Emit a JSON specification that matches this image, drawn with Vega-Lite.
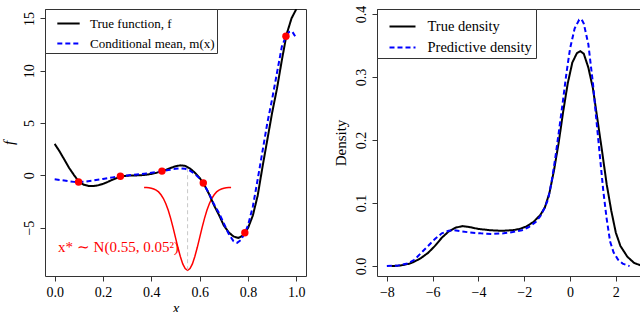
{
  "$schema": "https://vega.github.io/schema/vega-lite/v6.json",
  "padding": {"left": 0, "top": 4, "right": 0, "bottom": 0},
  "spacing": 25,
  "background": "white",
  "config": {
    "view": {"stroke": "#333", "strokeWidth": 1},
    "font": "Liberation Serif",
    "axis": {"grid": false, "domain": false, "ticks": true, "tickColor": "#333", "tickSize": 5, "labelFont": "Liberation Serif", "labelFontSize": 14, "labelColor": "#000", "labelPadding": 4, "titleFont": "Liberation Serif", "titleFontSize": 15, "titleFontWeight": "normal", "titleColor": "#000"}
  },
  "datasets": {
    "fn": [
      {"x": 0, "y": 3.0, "series": "True function, f"},
      {"x": 0.02, "y": 2.3, "series": "True function, f"},
      {"x": 0.04, "y": 1.5, "series": "True function, f"},
      {"x": 0.06, "y": 0.7, "series": "True function, f"},
      {"x": 0.08, "y": 0.02, "series": "True function, f"},
      {"x": 0.1, "y": -0.6, "series": "True function, f"},
      {"x": 0.12, "y": -0.9, "series": "True function, f"},
      {"x": 0.14, "y": -1.02, "series": "True function, f"},
      {"x": 0.16, "y": -1.03, "series": "True function, f"},
      {"x": 0.18, "y": -0.96, "series": "True function, f"},
      {"x": 0.2, "y": -0.82, "series": "True function, f"},
      {"x": 0.22, "y": -0.63, "series": "True function, f"},
      {"x": 0.24, "y": -0.42, "series": "True function, f"},
      {"x": 0.26, "y": -0.24, "series": "True function, f"},
      {"x": 0.28, "y": -0.1, "series": "True function, f"},
      {"x": 0.3, "y": -0.04, "series": "True function, f"},
      {"x": 0.32, "y": -0.02, "series": "True function, f"},
      {"x": 0.34, "y": -0.01, "series": "True function, f"},
      {"x": 0.36, "y": 0.01, "series": "True function, f"},
      {"x": 0.38, "y": 0.06, "series": "True function, f"},
      {"x": 0.4, "y": 0.13, "series": "True function, f"},
      {"x": 0.42, "y": 0.23, "series": "True function, f"},
      {"x": 0.44, "y": 0.36, "series": "True function, f"},
      {"x": 0.46, "y": 0.52, "series": "True function, f"},
      {"x": 0.48, "y": 0.7, "series": "True function, f"},
      {"x": 0.5, "y": 0.86, "series": "True function, f"},
      {"x": 0.52, "y": 0.95, "series": "True function, f"},
      {"x": 0.54, "y": 0.9, "series": "True function, f"},
      {"x": 0.56, "y": 0.65, "series": "True function, f"},
      {"x": 0.58, "y": 0.25, "series": "True function, f"},
      {"x": 0.6, "y": -0.25, "series": "True function, f"},
      {"x": 0.62, "y": -0.95, "series": "True function, f"},
      {"x": 0.64, "y": -1.85, "series": "True function, f"},
      {"x": 0.66, "y": -2.9, "series": "True function, f"},
      {"x": 0.68, "y": -3.8, "series": "True function, f"},
      {"x": 0.7, "y": -4.8, "series": "True function, f"},
      {"x": 0.72, "y": -5.45, "series": "True function, f"},
      {"x": 0.74, "y": -5.85, "series": "True function, f"},
      {"x": 0.76, "y": -5.99, "series": "True function, f"},
      {"x": 0.78, "y": -5.75, "series": "True function, f"},
      {"x": 0.8, "y": -5.05, "series": "True function, f"},
      {"x": 0.82, "y": -3.85, "series": "True function, f"},
      {"x": 0.84, "y": -1.95, "series": "True function, f"},
      {"x": 0.86, "y": 0.8, "series": "True function, f"},
      {"x": 0.88, "y": 3.4, "series": "True function, f"},
      {"x": 0.9, "y": 6.0, "series": "True function, f"},
      {"x": 0.92, "y": 8.3, "series": "True function, f"},
      {"x": 0.94, "y": 11.0, "series": "True function, f"},
      {"x": 0.96, "y": 13.5, "series": "True function, f"},
      {"x": 0.98, "y": 15.0, "series": "True function, f"},
      {"x": 1.0, "y": 15.9, "series": "True function, f"},
      {"x": 0, "y": -0.38, "series": "Conditional mean, m(x)"},
      {"x": 0.04, "y": -0.5, "series": "Conditional mean, m(x)"},
      {"x": 0.08, "y": -0.63, "series": "Conditional mean, m(x)"},
      {"x": 0.1, "y": -0.65, "series": "Conditional mean, m(x)"},
      {"x": 0.12, "y": -0.62, "series": "Conditional mean, m(x)"},
      {"x": 0.16, "y": -0.5, "series": "Conditional mean, m(x)"},
      {"x": 0.2, "y": -0.35, "series": "Conditional mean, m(x)"},
      {"x": 0.24, "y": -0.2, "series": "Conditional mean, m(x)"},
      {"x": 0.272, "y": -0.1, "series": "Conditional mean, m(x)"},
      {"x": 0.3, "y": -0.02, "series": "Conditional mean, m(x)"},
      {"x": 0.34, "y": 0.08, "series": "Conditional mean, m(x)"},
      {"x": 0.38, "y": 0.18, "series": "Conditional mean, m(x)"},
      {"x": 0.42, "y": 0.3, "series": "Conditional mean, m(x)"},
      {"x": 0.444, "y": 0.39, "series": "Conditional mean, m(x)"},
      {"x": 0.47, "y": 0.5, "series": "Conditional mean, m(x)"},
      {"x": 0.5, "y": 0.62, "series": "Conditional mean, m(x)"},
      {"x": 0.52, "y": 0.66, "series": "Conditional mean, m(x)"},
      {"x": 0.54, "y": 0.62, "series": "Conditional mean, m(x)"},
      {"x": 0.56, "y": 0.45, "series": "Conditional mean, m(x)"},
      {"x": 0.58, "y": 0.12, "series": "Conditional mean, m(x)"},
      {"x": 0.6, "y": -0.3, "series": "Conditional mean, m(x)"},
      {"x": 0.615, "y": -0.73, "series": "Conditional mean, m(x)"},
      {"x": 0.64, "y": -1.8, "series": "Conditional mean, m(x)"},
      {"x": 0.66, "y": -2.8, "series": "Conditional mean, m(x)"},
      {"x": 0.68, "y": -3.6, "series": "Conditional mean, m(x)"},
      {"x": 0.7, "y": -4.6, "series": "Conditional mean, m(x)"},
      {"x": 0.72, "y": -5.6, "series": "Conditional mean, m(x)"},
      {"x": 0.74, "y": -6.3, "series": "Conditional mean, m(x)"},
      {"x": 0.755, "y": -6.45, "series": "Conditional mean, m(x)"},
      {"x": 0.77, "y": -6.2, "series": "Conditional mean, m(x)"},
      {"x": 0.787, "y": -5.5, "series": "Conditional mean, m(x)"},
      {"x": 0.8, "y": -4.8, "series": "Conditional mean, m(x)"},
      {"x": 0.82, "y": -3.0, "series": "Conditional mean, m(x)"},
      {"x": 0.84, "y": -0.4, "series": "Conditional mean, m(x)"},
      {"x": 0.86, "y": 2.3, "series": "Conditional mean, m(x)"},
      {"x": 0.88, "y": 5.0, "series": "Conditional mean, m(x)"},
      {"x": 0.9, "y": 7.3, "series": "Conditional mean, m(x)"},
      {"x": 0.92, "y": 9.8, "series": "Conditional mean, m(x)"},
      {"x": 0.94, "y": 12.3, "series": "Conditional mean, m(x)"},
      {"x": 0.957, "y": 13.3, "series": "Conditional mean, m(x)"},
      {"x": 0.97, "y": 13.7, "series": "Conditional mean, m(x)"},
      {"x": 0.983, "y": 13.75, "series": "Conditional mean, m(x)"},
      {"x": 0.995, "y": 13.3, "series": "Conditional mean, m(x)"}
    ],
    "gauss": [
      {"x": 0.37, "y": -1.16}, {"x": 0.38, "y": -1.17}, {"x": 0.39, "y": -1.2}, {"x": 0.4, "y": -1.24},
      {"x": 0.41, "y": -1.31}, {"x": 0.42, "y": -1.42}, {"x": 0.43, "y": -1.59}, {"x": 0.44, "y": -1.86},
      {"x": 0.45, "y": -2.22}, {"x": 0.46, "y": -2.72}, {"x": 0.47, "y": -3.35}, {"x": 0.48, "y": -4.12},
      {"x": 0.49, "y": -5.01}, {"x": 0.5, "y": -5.96}, {"x": 0.51, "y": -6.91}, {"x": 0.52, "y": -7.77},
      {"x": 0.53, "y": -8.47}, {"x": 0.54, "y": -8.92}, {"x": 0.55, "y": -9.08}, {"x": 0.56, "y": -8.92},
      {"x": 0.57, "y": -8.47}, {"x": 0.58, "y": -7.77}, {"x": 0.59, "y": -6.91}, {"x": 0.6, "y": -5.96},
      {"x": 0.61, "y": -5.01}, {"x": 0.62, "y": -4.12}, {"x": 0.63, "y": -3.35}, {"x": 0.64, "y": -2.72},
      {"x": 0.65, "y": -2.22}, {"x": 0.66, "y": -1.86}, {"x": 0.67, "y": -1.59}, {"x": 0.68, "y": -1.42},
      {"x": 0.69, "y": -1.31}, {"x": 0.7, "y": -1.24}, {"x": 0.71, "y": -1.2}, {"x": 0.72, "y": -1.17},
      {"x": 0.73, "y": -1.16}
    ],
    "vline": [{"x": 0.55, "y1": -9.08, "y2": 0.68}],
    "pts": [
      {"x": 0.099, "y": -0.64}, {"x": 0.272, "y": -0.1}, {"x": 0.444, "y": 0.4},
      {"x": 0.615, "y": -0.73}, {"x": 0.787, "y": -5.5}, {"x": 0.957, "y": 13.3}
    ],
    "label": [{"x": 0.014, "y": -6.9, "text": "x* ∼ N(0.55, 0.05²)"}],
    "dens": [
      {"x": -7.8, "y": 0.0, "series": "True density"},
      {"x": -7.4, "y": 0.001, "series": "True density"},
      {"x": -7.0, "y": 0.004, "series": "True density"},
      {"x": -6.8, "y": 0.007, "series": "True density"},
      {"x": -6.5, "y": 0.013, "series": "True density"},
      {"x": -6.2, "y": 0.021, "series": "True density"},
      {"x": -5.9, "y": 0.032, "series": "True density"},
      {"x": -5.6, "y": 0.045, "series": "True density"},
      {"x": -5.3, "y": 0.055, "series": "True density"},
      {"x": -5.0, "y": 0.061, "series": "True density"},
      {"x": -4.7, "y": 0.0635, "series": "True density"},
      {"x": -4.4, "y": 0.062, "series": "True density"},
      {"x": -4.0, "y": 0.059, "series": "True density"},
      {"x": -3.5, "y": 0.057, "series": "True density"},
      {"x": -3.0, "y": 0.056, "series": "True density"},
      {"x": -2.5, "y": 0.057, "series": "True density"},
      {"x": -2.2, "y": 0.059, "series": "True density"},
      {"x": -1.9, "y": 0.063, "series": "True density"},
      {"x": -1.6, "y": 0.07, "series": "True density"},
      {"x": -1.3, "y": 0.081, "series": "True density"},
      {"x": -1.1, "y": 0.093, "series": "True density"},
      {"x": -0.9, "y": 0.116, "series": "True density"},
      {"x": -0.7, "y": 0.152, "series": "True density"},
      {"x": -0.5, "y": 0.195, "series": "True density"},
      {"x": -0.3, "y": 0.245, "series": "True density"},
      {"x": -0.1, "y": 0.29, "series": "True density"},
      {"x": 0.1, "y": 0.323, "series": "True density"},
      {"x": 0.3, "y": 0.338, "series": "True density"},
      {"x": 0.45, "y": 0.341, "series": "True density"},
      {"x": 0.6, "y": 0.337, "series": "True density"},
      {"x": 0.8, "y": 0.315, "series": "True density"},
      {"x": 1.0, "y": 0.282, "series": "True density"},
      {"x": 1.2, "y": 0.232, "series": "True density"},
      {"x": 1.4, "y": 0.182, "series": "True density"},
      {"x": 1.6, "y": 0.13, "series": "True density"},
      {"x": 1.8, "y": 0.088, "series": "True density"},
      {"x": 2.0, "y": 0.053, "series": "True density"},
      {"x": 2.2, "y": 0.032, "series": "True density"},
      {"x": 2.5, "y": 0.015, "series": "True density"},
      {"x": 2.8, "y": 0.005, "series": "True density"},
      {"x": 3.1, "y": 0.001, "series": "True density"},
      {"x": -8.0, "y": 0.0, "series": "Predictive density"},
      {"x": -7.5, "y": 0.001, "series": "Predictive density"},
      {"x": -7.1, "y": 0.004, "series": "Predictive density"},
      {"x": -6.8, "y": 0.01, "series": "Predictive density"},
      {"x": -6.5, "y": 0.021, "series": "Predictive density"},
      {"x": -6.2, "y": 0.032, "series": "Predictive density"},
      {"x": -5.9, "y": 0.043, "series": "Predictive density"},
      {"x": -5.6, "y": 0.052, "series": "Predictive density"},
      {"x": -5.3, "y": 0.056, "series": "Predictive density"},
      {"x": -5.1, "y": 0.057, "series": "Predictive density"},
      {"x": -4.8, "y": 0.0555, "series": "Predictive density"},
      {"x": -4.4, "y": 0.0535, "series": "Predictive density"},
      {"x": -3.9, "y": 0.052, "series": "Predictive density"},
      {"x": -3.4, "y": 0.051, "series": "Predictive density"},
      {"x": -2.9, "y": 0.052, "series": "Predictive density"},
      {"x": -2.5, "y": 0.054, "series": "Predictive density"},
      {"x": -2.1, "y": 0.057, "series": "Predictive density"},
      {"x": -1.8, "y": 0.062, "series": "Predictive density"},
      {"x": -1.5, "y": 0.07, "series": "Predictive density"},
      {"x": -1.3, "y": 0.079, "series": "Predictive density"},
      {"x": -1.1, "y": 0.093, "series": "Predictive density"},
      {"x": -0.95, "y": 0.107, "series": "Predictive density"},
      {"x": -0.8, "y": 0.135, "series": "Predictive density"},
      {"x": -0.65, "y": 0.17, "series": "Predictive density"},
      {"x": -0.5, "y": 0.21, "series": "Predictive density"},
      {"x": -0.3, "y": 0.265, "series": "Predictive density"},
      {"x": -0.15, "y": 0.308, "series": "Predictive density"},
      {"x": 0.0, "y": 0.345, "series": "Predictive density"},
      {"x": 0.2, "y": 0.377, "series": "Predictive density"},
      {"x": 0.4, "y": 0.391, "series": "Predictive density"},
      {"x": 0.5, "y": 0.392, "series": "Predictive density"},
      {"x": 0.6, "y": 0.385, "series": "Predictive density"},
      {"x": 0.8, "y": 0.352, "series": "Predictive density"},
      {"x": 1.0, "y": 0.29, "series": "Predictive density"},
      {"x": 1.15, "y": 0.232, "series": "Predictive density"},
      {"x": 1.3, "y": 0.176, "series": "Predictive density"},
      {"x": 1.45, "y": 0.12, "series": "Predictive density"},
      {"x": 1.6, "y": 0.075, "series": "Predictive density"},
      {"x": 1.75, "y": 0.039, "series": "Predictive density"},
      {"x": 1.9, "y": 0.022, "series": "Predictive density"},
      {"x": 2.1, "y": 0.01, "series": "Predictive density"},
      {"x": 2.3, "y": 0.004, "series": "Predictive density"},
      {"x": 2.6, "y": 0.0, "series": "Predictive density"}
    ]
  },
  "hconcat": [
    {
      "width": 261,
      "height": 267,
      "layer": [
        {
          "data": {"name": "gauss"},
          "mark": {"type": "line", "color": "#FF0000", "strokeWidth": 1.5, "clip": true},
          "encoding": {
            "x": {"field": "x", "type": "quantitative", "scale": {"domain": [-0.04, 1.04], "nice": false, "zero": false},
                  "axis": {"values": [0, 0.2, 0.4, 0.6, 0.8, 1.0], "format": ".1f", "titleFontStyle": "italic", "titlePadding": 1}, "title": "x"},
            "y": {"field": "y", "type": "quantitative", "scale": {"domain": [-9.63, 15.9], "nice": false, "zero": false},
                  "axis": {"values": [-5, 0, 5, 10, 15], "labelAngle": -90, "titleFontStyle": "italic", "titlePadding": 6}, "title": "f"}
          }
        },
        {
          "data": {"name": "vline"},
          "mark": {"type": "rule", "color": "#C8C8C8", "strokeDash": [4, 3], "strokeWidth": 1},
          "encoding": {
            "x": {"field": "x", "type": "quantitative"},
            "y": {"field": "y1", "type": "quantitative"},
            "y2": {"field": "y2"}
          }
        },
        {
          "data": {"name": "fn"},
          "mark": {"type": "line", "strokeWidth": 2, "clip": true},
          "encoding": {
            "x": {"field": "x", "type": "quantitative"},
            "y": {"field": "y", "type": "quantitative"},
            "color": {"field": "series", "type": "nominal",
                      "scale": {"domain": ["True function, f", "Conditional mean, m(x)"], "range": ["#000000", "#0000FF"]},
                      "legend": {"orient": "top-left", "offset": 0, "title": null, "symbolType": "stroke", "symbolSize": 500, "symbolStrokeWidth": 2,
                                 "labelFont": "Liberation Serif", "labelFontSize": 13, "labelColor": "#000", "padding": 2, "rowPadding": -5.5,
                                 "strokeColor": "#333", "fillColor": "#fff", "labelOffset": 9, "symbolOffset": 9}},
            "strokeDash": {"field": "series", "type": "nominal",
                           "scale": {"domain": ["True function, f", "Conditional mean, m(x)"], "range": [[1, 0], [5, 3]]},
                           "legend": {"orient": "top-left", "offset": 0, "title": null, "symbolType": "stroke", "symbolSize": 500, "symbolStrokeWidth": 2,
                                 "labelFont": "Liberation Serif", "labelFontSize": 13, "labelColor": "#000", "padding": 2, "rowPadding": -5.5,
                                 "strokeColor": "#333", "fillColor": "#fff", "labelOffset": 9, "symbolOffset": 9}}
          }
        },
        {
          "data": {"name": "pts"},
          "mark": {"type": "circle", "color": "#FF0000", "size": 55, "opacity": 1},
          "encoding": {
            "x": {"field": "x", "type": "quantitative"},
            "y": {"field": "y", "type": "quantitative"}
          }
        },
        {
          "data": {"name": "label"},
          "mark": {"type": "text", "color": "#FF0000", "align": "left", "baseline": "middle", "fontSize": 15, "font": "Liberation Serif"},
          "encoding": {
            "x": {"field": "x", "type": "quantitative"},
            "y": {"field": "y", "type": "quantitative"},
            "text": {"field": "text"}
          }
        }
      ]
    },
    {
      "width": 267,
      "height": 267,
      "layer": [
        {
          "mark": {"type": "rule", "color": "#CCCCCC", "strokeWidth": 1},
          "encoding": {"y": {"datum": 0, "type": "quantitative"}}
        },
        {
          "data": {"name": "dens"},
          "mark": {"type": "line", "strokeWidth": 2, "clip": true},
          "encoding": {
            "x": {"field": "x", "type": "quantitative", "scale": {"domain": [-8.43, 3.23], "nice": false, "zero": false},
                  "axis": {"values": [-8, -6, -4, -2, 0, 2]}, "title": null},
            "y": {"field": "y", "type": "quantitative", "scale": {"domain": [-0.0157, 0.408], "nice": false, "zero": false},
                  "axis": {"values": [0, 0.1, 0.2, 0.3, 0.4], "format": ".1f", "labelAngle": -90, "titlePadding": 6}, "title": "Density"},
            "color": {"field": "series", "type": "nominal",
                      "scale": {"domain": ["True density", "Predictive density"], "range": ["#000000", "#0000FF"]},
                      "legend": {"orient": "top-left", "offset": 0, "title": null, "symbolType": "stroke", "symbolSize": 676, "symbolStrokeWidth": 2,
                                 "labelFont": "Liberation Serif", "labelFontSize": 14.5, "labelColor": "#000", "padding": 3.5, "rowPadding": -10.5,
                                 "strokeColor": "#333", "fillColor": "#fff", "labelOffset": 11, "symbolOffset": 8}},
            "strokeDash": {"field": "series", "type": "nominal",
                           "scale": {"domain": ["True density", "Predictive density"], "range": [[1, 0], [5, 3]]},
                           "legend": {"orient": "top-left", "offset": 0, "title": null, "symbolType": "stroke", "symbolSize": 676, "symbolStrokeWidth": 2,
                                 "labelFont": "Liberation Serif", "labelFontSize": 14.5, "labelColor": "#000", "padding": 3.5, "rowPadding": -10.5,
                                 "strokeColor": "#333", "fillColor": "#fff", "labelOffset": 11, "symbolOffset": 8}}
          }
        }
      ]
    }
  ],
  "resolve": {"scale": {"color": "independent", "strokeDash": "independent"}}
}
